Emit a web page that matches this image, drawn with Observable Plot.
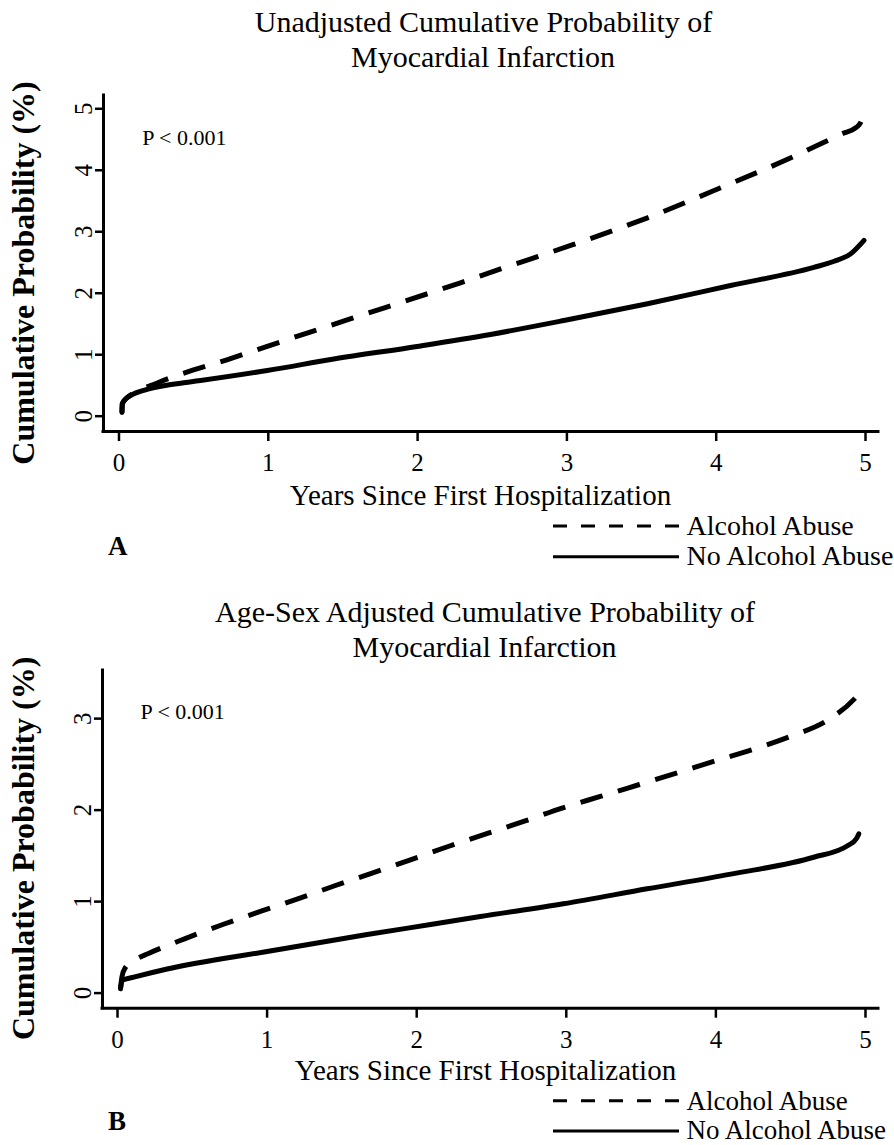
<!DOCTYPE html>
<html>
<head>
<meta charset="utf-8">
<script src="https://cdn.jsdelivr.net/npm/d3@7"></script>
<script src="https://cdn.jsdelivr.net/npm/@observablehq/plot@0.6"></script>
<style>
  html, body { margin: 0; padding: 0; background: #fff; }
  #wrap { position: relative; width: 894px; height: 1145px; overflow: hidden; background: #fff; }
  #wrap svg.plotA, #wrap svg.plotB { position: absolute; left: 0; }
  #overlay { position: absolute; left: 0; top: 0; pointer-events: none; }
</style>
</head>
<body>
<div id="wrap"></div>
<script>
// ---------- data ----------
const titleA = ["Unadjusted Cumulative Probability of", "Myocardial Infarction"];
const titleB = ["Age-Sex Adjusted Cumulative Probability of", "Myocardial Infarction"];
const xLabel = "Years Since First Hospitalization";
const yLabel = "Cumulative Probability (%)";
const pText = "P < 0.001";
const seriesNames = ["Alcohol Abuse", "No Alcohol Abuse"];
const panelLetters = ["A", "B"];

const xTicks = [0, 1, 2, 3, 4, 5];
const yTicksA = [0, 1, 2, 3, 4, 5];
const yTicksB = [0, 1, 2, 3];

// Panel A (unadjusted)
const yearsA_alcohol = [0.02, 0.022, 0.045, 0.088, 0.256, 0.762, 1.265, 1.778, 2.287, 2.537, 3.04, 3.54, 4.03, 4.524, 4.77, 4.84, 4.94, 4.975, 4.99];
const probA_alcohol  = [0.06, 0.20, 0.28, 0.36, 0.54, 0.95, 1.356, 1.763, 2.17, 2.38, 2.79, 3.227, 3.715, 4.229, 4.51, 4.59, 4.70, 4.82, 5.00];
const yearsA_none = [0.02, 0.022, 0.045, 0.088, 0.166, 0.35, 0.546, 0.993, 1.439, 1.997, 2.488, 2.98, 3.54, 4.096, 4.654, 4.79, 4.90, 4.99];
const probA_none  = [0.06, 0.20, 0.28, 0.35, 0.42, 0.515, 0.58, 0.743, 0.93, 1.135, 1.33, 1.556, 1.83, 2.125, 2.42, 2.52, 2.64, 2.86];

// Panel B (age-sex adjusted)
const yearsB_alcohol = [0.02, 0.03, 0.053, 0.13, 0.203, 0.448, 0.704, 0.96, 1.205, 1.457, 1.707, 1.963, 2.215, 2.72, 2.977, 3.233, 3.489, 3.745, 3.99, 4.247, 4.503, 4.744, 4.926, 4.955];
const probB_alcohol  = [0.05, 0.18, 0.28, 0.375, 0.43, 0.593, 0.75, 0.895, 1.03, 1.176, 1.315, 1.46, 1.605, 1.879, 2.025, 2.152, 2.28, 2.408, 2.535, 2.662, 2.808, 2.98, 3.216, 3.27];
const yearsB_none = [0.02, 0.031, 0.109, 0.332, 1.0, 1.669, 2.114, 2.426, 2.98, 3.54, 4.10, 4.654, 4.88, 4.94, 4.955];
const probB_none  = [0.047, 0.14, 0.174, 0.263, 0.455, 0.64, 0.755, 0.837, 0.976, 1.14, 1.30, 1.485, 1.61, 1.69, 1.74];

// ---------- drawing ----------
const FONT = "'Liberation Serif', 'Times New Roman', Times, serif";
const wrap = document.getElementById("wrap");

function toRows(xs, ys) { return xs.map((x, i) => ({x, y: ys[i]})); }

function makePanel(cfg) {
  const svg = Plot.plot({
    width: 894,
    height: cfg.height,
    marginLeft: cfg.marginLeft,
    marginRight: cfg.marginRight,
    marginTop: cfg.marginTop,
    marginBottom: cfg.marginBottom,
    x: {domain: cfg.xDomain},
    y: {domain: cfg.yDomain},
    style: {fontFamily: FONT, color: "#000", background: "transparent", overflow: "visible"},
    marks: [
      Plot.axisX(xTicks, {tickSize: 10, tickPadding: 12, fontSize: 25, strokeWidth: 2.5, tickFormat: d => String(d), label: null}),
      Plot.axisY(cfg.yTicks, {tickSize: 8, tickPadding: 4, tickRotate: -90, fontSize: 25, strokeWidth: 2.5, tickFormat: d => String(d), label: null}),
      Plot.ruleX([cfg.xDomain[0]], {strokeWidth: 3, strokeLinecap: "square"}),
      Plot.ruleY([cfg.yDomain[0]], {strokeWidth: 3, strokeLinecap: "square"}),
      Plot.line(toRows(cfg.noneX, cfg.noneY), {x: "x", y: "y", stroke: "#000", strokeWidth: 5, curve: "monotone-x", strokeLinecap: "round"}),
      Plot.line(toRows(cfg.alcX, cfg.alcY), {x: "x", y: "y", stroke: "#000", strokeWidth: 5, curve: "monotone-x", strokeDasharray: "23,16", strokeLinecap: "butt"}),
      Plot.text([pText], {text: d => d, frameAnchor: "top-left", dx: cfg.pDx, dy: cfg.pDy, fontSize: 22, textAnchor: "start", lineAnchor: "middle"}),
      Plot.text([yLabel], {text: d => d, frameAnchor: "left", dx: cfg.yLabDx, dy: cfg.yLabDy, rotate: -90, fontSize: 32, fontWeight: "bold", textAnchor: "middle", lineAnchor: "middle"}),
      Plot.text([xLabel], {text: d => d, frameAnchor: "bottom", dx: cfg.xLabDx, dy: cfg.xLabDy, fontSize: 29, textAnchor: "middle", lineAnchor: "middle"})
    ]
  });
  svg.classList.add(cfg.cls);
  svg.style.top = cfg.top + "px";
  wrap.appendChild(svg);
}

// Panel A: frame x 103..878 (0 -> 118.5, 5 -> 865), y 95..431 (0 -> 415.7, 5 -> 108.3)
makePanel({
  cls: "plotA", top: 75, height: 450,
  marginLeft: 103, marginRight: 16, marginTop: 20, marginBottom: 94,
  xDomain: [-0.1038, 5.087], yDomain: [-0.249, 5.216], yTicks: yTicksA,
  alcX: yearsA_alcohol, alcY: probA_alcohol, noneX: yearsA_none, noneY: probA_none,
  pDx: 38.7, pDy: 42, yLabDx: -79.3, yLabDy: 9.5, xLabDx: -10.5, xLabDy: 64
});

// Panel B: frame x 102..878 (0 -> 117, 5 -> 865), y 670..1007.7 (0 -> 992.6, 3 -> 718)
makePanel({
  cls: "plotB", top: 650, height: 450,
  marginLeft: 102, marginRight: 16, marginTop: 20, marginBottom: 92.3,
  xDomain: [-0.1003, 5.087], yDomain: [-0.165, 3.526], yTicks: yTicksB,
  alcX: yearsB_alcohol, alcY: probB_alcohol, noneX: yearsB_none, noneY: probB_none,
  pDx: 38, pDy: 41.3, yLabDx: -78.3, yLabDy: 9, xLabDx: -5, xLabDy: 63
});

// ---------- titles, legends, panel letters ----------
const ns = "http://www.w3.org/2000/svg";
const ov = document.createElementNS(ns, "svg");
ov.setAttribute("id", "overlay");
ov.setAttribute("width", 894);
ov.setAttribute("height", 1145);
ov.setAttribute("font-family", FONT);
wrap.appendChild(ov);

function addText(str, x, y, size, anchor, weight) {
  const t = document.createElementNS(ns, "text");
  t.setAttribute("x", x); t.setAttribute("y", y);
  t.setAttribute("font-size", size);
  t.setAttribute("text-anchor", anchor || "start");
  if (weight) t.setAttribute("font-weight", weight);
  t.setAttribute("fill", "#000");
  t.textContent = str;
  ov.appendChild(t);
}
function addLine(x1, x2, y, dash) {
  const l = document.createElementNS(ns, "line");
  l.setAttribute("x1", x1); l.setAttribute("x2", x2);
  l.setAttribute("y1", y); l.setAttribute("y2", y);
  l.setAttribute("stroke", "#000"); l.setAttribute("stroke-width", 3);
  if (dash) l.setAttribute("stroke-dasharray", dash);
  ov.appendChild(l);
}

// titles
addText(titleA[0], 483.5, 32, 30, "middle");
addText(titleA[1], 483, 67, 30, "middle");
addText(titleB[0], 485, 622, 30, "middle");
addText(titleB[1], 484.5, 657, 30, "middle");

// legends
function legend(yDash, ySolid, size) {
  addLine(553, 679, yDash, "14,14");
  addText(seriesNames[0], 686.5, yDash + 9, size, "start");
  addLine(553, 679, ySolid, null);
  addText(seriesNames[1], 686.5, ySolid + 8, size, "start");
}
legend(526, 556.7, 28);
legend(1100.7, 1131, 27);

// panel letters
addText(panelLetters[0], 108, 555, 27, "start", "bold");
addText(panelLetters[1], 108, 1130, 27, "start", "bold");
</script>
</body>
</html>
